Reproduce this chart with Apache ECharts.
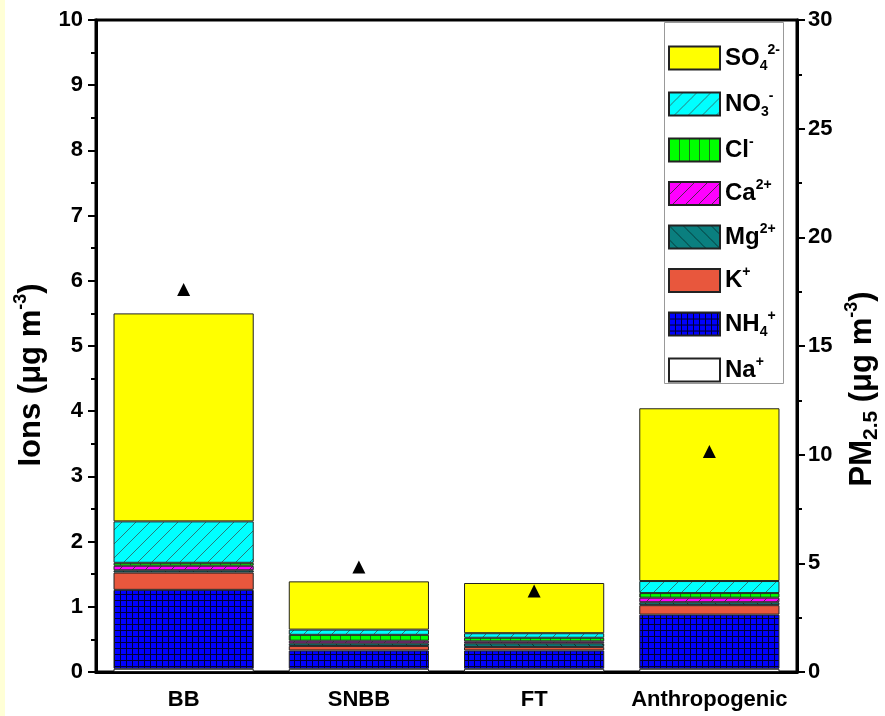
<!DOCTYPE html>
<html><head><meta charset="utf-8">
<script src="https://cdn.jsdelivr.net/npm/echarts@6/dist/echarts.min.js"></script>
<style>html,body{margin:0;padding:0;background:#fff}#c{width:885px;height:716px}</style>
</head><body><div id="c"></div><script>
// ---- data ----
const categories = ['BB', 'SNBB', 'FT', 'Anthropogenic'];
const na  = [0.05, 0.05, 0.05, 0.05];
const nh4 = [1.21, 0.28, 0.28, 0.83];
const kp  = [0.265, 0.07, 0.055, 0.145];
const mg  = [0.035, 0.04, 0.055, 0.045];
const ca  = [0.07, 0.04, 0.03, 0.07];
const cl  = [0.045, 0.09, 0.055, 0.07];
const no3 = [0.635, 0.08, 0.07, 0.185];
const so4 = [3.19, 0.74, 0.77, 2.65];
const pm25 = [17.6, 4.83, 3.73, 10.14];
const leftTicks = [0, 10, 1];
const rightTicks = [0, 30, 5];

const FONT = "'Liberation Sans', Arial, sans-serif";

function pattern(w, h, bg, draw) {
  const c = document.createElement('canvas');
  c.width = w; c.height = h;
  const g = c.getContext('2d');
  g.fillStyle = bg; g.fillRect(0, 0, w, h);
  if (draw) draw(g, w, h);
  return { image: c, repeat: 'repeat' };
}
const pNH4 = pattern(6, 6, '#0000ff', (g) => { g.fillStyle = '#000033'; g.fillRect(0, 0, 6, 1); g.fillRect(0, 0, 1, 6); });
const pNO3 = pattern(14, 14, '#00ffff', (g, w, h) => { g.strokeStyle = '#2a7a7a'; g.lineWidth = 1; g.beginPath(); g.moveTo(0, h); g.lineTo(w, 0); g.stroke(); });
const pCl = pattern(10, 10, '#00ff00', (g) => { g.fillStyle = '#1b6b1b'; g.fillRect(0, 0, 1, 10); });
const pCa = pattern(13, 13, '#ff00ff', (g, w, h) => { g.strokeStyle = '#552255'; g.lineWidth = 1; g.beginPath(); g.moveTo(0, h); g.lineTo(w, 0); g.stroke(); });
const pMg = pattern(14, 14, '#0a7f7f', (g, w, h) => { g.strokeStyle = '#053c3c'; g.lineWidth = 1; g.beginPath(); g.moveTo(0, 0); g.lineTo(w, h); g.stroke(); });

const seriesDefs = [
  ['Na', na, '#ffffff'],
  ['NH4', nh4, pNH4],
  ['K', kp, '#e8573d'],
  ['Mg', mg, pMg],
  ['Ca', ca, pCa],
  ['Cl', cl, pCl],
  ['NO3', no3, pNO3],
  ['SO4', so4, '#ffff00']
];
const legendText = {
  SO4: '{b|SO}{sub|4}{sup|2-}',
  NO3: '{b|NO}{sub|3}{sup|-}',
  Cl: '{b|Cl}{sup|-}',
  Ca: '{b|Ca}{sup|2+}',
  Mg: '{b|Mg}{sup|2+}',
  K: '{b|K}{sup|+}',
  NH4: '{b|NH}{sub|4}{sup|+}',
  Na: '{b|Na}{sup|+}'
};

const series = seriesDefs.map(([name, data, color]) => ({
  name, type: 'bar', stack: 'ions', data, barWidth: '80%',
  itemStyle: { color, borderColor: '#222', borderWidth: 1 },
  emphasis: { disabled: true }
}));
series.push({
  name: 'PM2.5', type: 'scatter', yAxisIndex: 1, data: pm25,
  symbol: 'triangle', symbolSize: 13, itemStyle: { color: '#000', opacity: 1 }, z: 10
});

const axisLbl = { fontFamily: FONT, fontWeight: 'bold', fontSize: 22, color: '#000' };
function richName(subSize) {
  return {
    a: { fontFamily: FONT, fontWeight: 'bold', fontSize: 31, color: '#000', lineHeight: 38, verticalAlign: 'middle' },
    sup: { fontFamily: FONT, fontWeight: 'bold', fontSize: 18, color: '#000', lineHeight: 18, verticalAlign: 'top' },
    sub: { fontFamily: FONT, fontWeight: 'bold', fontSize: subSize, color: '#000', lineHeight: subSize, verticalAlign: 'bottom' }
  };
}

const chart = echarts.init(document.getElementById('c'), null, { renderer: 'canvas' });
chart.setOption({
  animation: false,
  backgroundColor: '#ffffff',
  grid: { left: 96, right: 88, top: 20, bottom: 44, containLabel: false, outerBoundsMode: 'none',
          show: true, borderColor: '#000', borderWidth: 3 },
  graphic: [
    { type: 'rect', left: 0, top: 0, shape: { width: 5, height: 716 }, style: { fill: '#ffffd6' }, silent: true },
    { type: 'rect', left: 664, top: 22, shape: { width: 119, height: 361 }, style: { fill: '#fff', stroke: '#999', lineWidth: 1 }, z: -1, silent: true }
  ],
  legend: {
    data: ['SO4', 'NO3', 'Cl', 'Ca', 'Mg', 'K', 'NH4', 'Na'],
    orient: 'vertical', left: 664, top: 43, padding: [0, 0, 0, 4],
    icon: 'rect',
    itemWidth: 51, itemHeight: 23, itemGap: 16,
    selectedMode: false,
    formatter: (n) => legendText[n],
    textStyle: {
      rich: {
        b: { fontFamily: FONT, fontWeight: 'bold', fontSize: 24, color: '#000', lineHeight: 30 },
        sub: { fontFamily: FONT, fontWeight: 'bold', fontSize: 14, color: '#000', lineHeight: 14, verticalAlign: 'bottom' },
        sup: { fontFamily: FONT, fontWeight: 'bold', fontSize: 14, color: '#000', lineHeight: 14, verticalAlign: 'top' }
      }
    }
  },
  xAxis: {
    type: 'category', data: categories,
    axisLine: { lineStyle: { color: '#000', width: 3 } },
    axisTick: { alignWithLabel: true, length: 8, lineStyle: { color: '#000', width: 2 } },
    axisLabel: Object.assign({ margin: 17, interval: 0 }, axisLbl)
  },
  yAxis: [
    {
      type: 'value', min: leftTicks[0], max: leftTicks[1], interval: leftTicks[2],
      name: '{a|Ions (μg m}{sup|-3}{a|)}', nameLocation: 'middle', nameGap: 46, nameRotate: 90,
      nameTextStyle: { rich: richName(18), padding: [0, 58, 0, 0] },
      axisLine: { show: true, lineStyle: { color: '#000', width: 3 } },
      axisTick: { show: true, length: 8, lineStyle: { color: '#000', width: 2 } },
      minorTick: { show: true, splitNumber: 2, length: 5, lineStyle: { color: '#000', width: 2 } },
      splitLine: { show: false },
      axisLabel: Object.assign({ margin: 13 }, axisLbl)
    },
    {
      type: 'value', min: rightTicks[0], max: rightTicks[1], interval: rightTicks[2], position: 'right',
      name: '{a|PM}{sub|2.5}{a| (μg m}{sup|-3}{a|)}', nameLocation: 'middle', nameGap: 45, nameRotate: 90,
      nameTextStyle: { rich: richName(21), padding: [0, 86, 0, 0] },
      axisLine: { show: true, lineStyle: { color: '#000', width: 3 } },
      axisTick: { show: true, length: 8, lineStyle: { color: '#000', width: 2 } },
      minorTick: { show: true, splitNumber: 2, length: 5, lineStyle: { color: '#000', width: 2 } },
      splitLine: { show: false },
      axisLabel: Object.assign({ margin: 11 }, axisLbl)
    }
  ],
  series
});
</script></body></html>
